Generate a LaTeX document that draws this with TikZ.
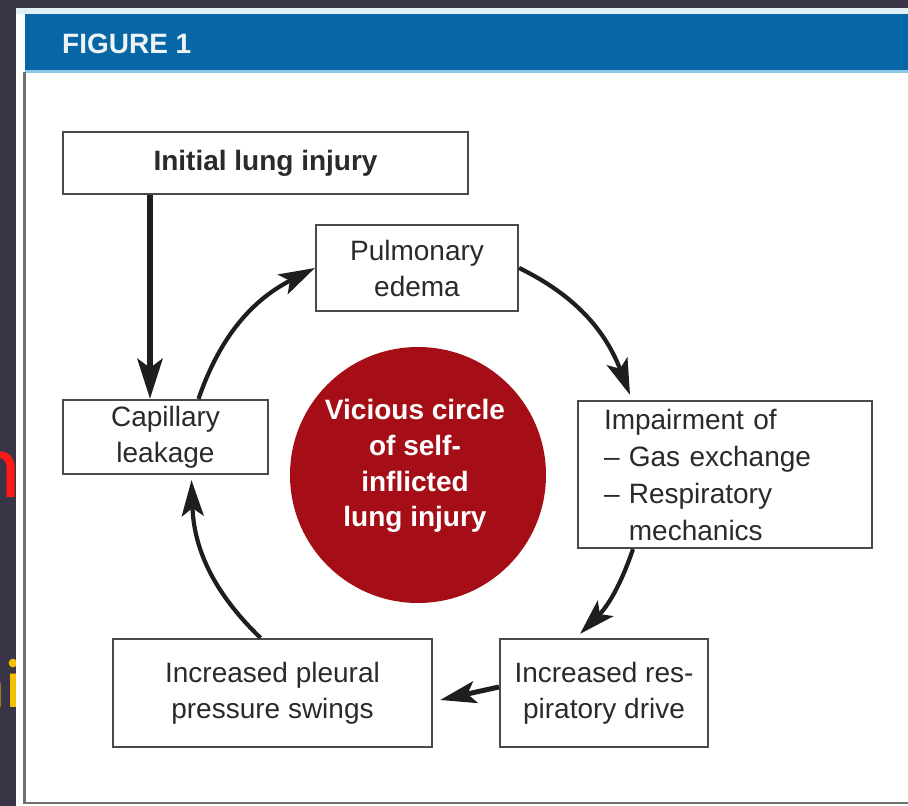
\documentclass[tikz,border=0pt]{standalone}
\usepackage{fontspec}
\setmainfont{Liberation Sans}
\newfontfamily\carl{Carlito}
\usetikzlibrary{arrows.meta}
\definecolor{bgdark}{HTML}{393547}
\definecolor{hdrblue}{HTML}{0766A6}
\definecolor{hdrlight}{HTML}{E2F0F6}
\definecolor{hdrline}{HTML}{8CC8E4}
\definecolor{boxgray}{HTML}{4A4A4A}
\definecolor{framegray}{HTML}{707070}
\definecolor{txt}{HTML}{2A2A2A}
\definecolor{arrowc}{HTML}{1E1E1E}
\definecolor{vred}{HTML}{A50E16}
\definecolor{artred}{HTML}{FF1A1A}
\definecolor{artyel}{HTML}{F5C000}
\definecolor{figtxt}{HTML}{EEF3F6}
\begin{document}
\begin{tikzpicture}[x=1pt,y=1pt,
  box/.style={draw=boxgray,line width=2.2pt,fill=white,inner sep=0pt,align=center,text=txt,font=\fontsize{28}{36}\selectfont},
  cyc/.style={draw=arrowc,line width=4.2pt,-{Stealth[length=36pt,width=22pt,inset=8pt]}},
  feed/.style={draw=arrowc,line width=6.5pt,-{Stealth[length=40pt,width=25pt,inset=9pt]}},
  ]
\useasboundingbox (0,0) rectangle (908,-806);
% dark slide background
\fill[bgdark] (0,0) rectangle (908,-806);
% fragments of slide text behind the figure
\node[anchor=base east,inner sep=0pt,text=artred,font=\carl\fontsize{94}{94}\selectfont] (artn) at (21,-497) {n};
\node[anchor=base east,inner sep=0pt,text=artyel,font=\carl\fontsize{70}{70}\selectfont] (arthi) at (22,-707) {hi};
% figure panel
\fill[white] (16,-8) rectangle (908,-806);
\fill[hdrlight] (16,-8) rectangle (908,-14);
\fill[hdrblue] (25,-14) rectangle (908,-70);
\fill[hdrline] (25,-70) rectangle (908,-72.5);
\draw[framegray,line width=2.4pt] (24.5,-72) -- (24.5,-803) -- (908,-803);
\node[anchor=base west,inner sep=0pt,text=figtxt,font=\bfseries\fontsize{28}{28}\selectfont] (fig) at (62,-53) {FIGURE 1};
% boxes
\node[box,minimum width=405pt,minimum height=62pt,font=\bfseries\fontsize{28}{36}\selectfont] (init) at (265.5,-163) {Initial lung injury};
\node[box,minimum width=202pt,minimum height=86pt] (pulm) at (417,-268) {Pulmonary\\edema};
\node[box,minimum width=205pt,minimum height=74pt] (cap) at (165.5,-437) {Capillary\\leakage};
\node[box,minimum width=294pt,minimum height=147pt,text width=242pt,align=left,font=\fontsize{28}{37}\selectfont] (imp) at (725,-474.5) {Impairment of\\\textendash{} Gas exchange\\\textendash{} Respiratory\\\phantom{\textendash{} }mechanics};
\node[box,minimum width=319pt,minimum height=108pt] (pleu) at (272.5,-693) {Increased pleural\\pressure swings};
\node[box,minimum width=208pt,minimum height=108pt] (drive) at (604,-693) {Increased res-\\piratory drive};
% central circle
\node[circle,fill=vred,minimum size=256pt,inner sep=0pt] (vc) at (418,-475) {};
\node[text=white,align=center,inner sep=0pt,font=\bfseries\fontsize{28}{35.7}\selectfont] (vct) at (415,-466) {Vicious circle\\of self-\\inflicted\\lung injury};
% connectors
\draw[feed] ([xshift=-115.5pt]init.south) -- ([xshift=-115.5pt]init.south |- cap.north);
\draw[cyc] ([xshift=33pt]cap.north) to[out=71,in=207] (pulm.west);
\draw[cyc] (pulm.east) to[out=-26,in=111] ([xshift=-95pt,yshift=5pt]imp.north);
\draw[cyc] ([xshift=-92pt]imp.south) to[out=-109,in=45] ([xshift=-24pt,yshift=4pt]drive.north);
\draw[cyc,line width=5pt] ([yshift=6pt]drive.west) -- ([xshift=7pt,yshift=-7pt]pleu.east);
\draw[cyc] ([xshift=-12pt]pleu.north) to[out=136,in=-88] ([xshift=26pt,yshift=-5pt]cap.south);
\end{tikzpicture}
\end{document}
